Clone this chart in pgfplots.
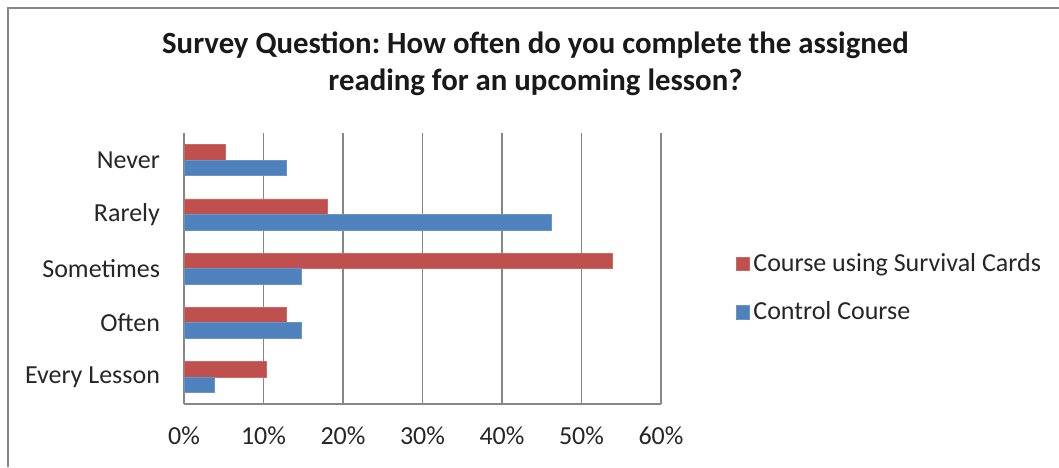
\documentclass[border=0pt]{standalone}
\usepackage{pgfplots}
\pgfplotsset{compat=1.18}
\usepackage{fontspec}
\setmainfont{Carlito}
\frenchspacing
\definecolor{xred}{HTML}{C0504D}
\definecolor{xblue}{HTML}{4F81BD}
\definecolor{xgrid}{HTML}{878787}
\begin{document}
\begin{tikzpicture}
\useasboundingbox (0,0) rectangle (529.5pt,233.5pt);
\fill[white] (0,0) rectangle (529.5pt,233.5pt);
\draw[xgrid, line width=0.8pt] (4pt,0) -- (4pt,229.5pt) -- (529.5pt,229.5pt);
\node[align=center, font=\fontsize{15.4}{18.5}\selectfont\bfseries, text=black!90] at (267.75pt,201.5pt)
  {Survey Question: How often do you complete the assigned\\reading for an upcoming lesson?};
\begin{axis}[
  at={(92pt,31.5pt)}, anchor=south west,
  scale only axis, width=238.5pt, height=135.5pt,
  xmin=0, xmax=60, ymin=-0.5, ymax=4.5,
  axis x line*=bottom, axis y line*=left,
  axis line style={xgrid, line width=0.6pt},
  xmajorgrids, grid style={xgrid, line width=0.6pt},
  xtick={0,10,...,60},
  xticklabel={\pgfmathprintnumber{\tick}\%},
  /pgf/number format/assume math mode=true,
  ytick={0,1,2,3,4},
  yticklabels={Every Lesson,Often,Sometimes,Rarely,Never},
  major tick length=0pt,
  tick label style={font=\fontsize{13}{15.6}\selectfont, text=black!85},
  xticklabel style={yshift=-8pt},
  yticklabel style={xshift=-8.5pt},
  xbar, bar width=0.286,
  legend style={at={(1.143,0.428)}, anchor=west, draw=none, fill=none,
    font=\fontsize{13}{15.6}\selectfont, text=black!85, row sep=9.5pt,
    legend cell align=left},
  legend image code/.code={\fill[#1] (0pt,-3.4pt) rectangle (6.6pt,3.4pt);},
]
\addplot[xbar, bar shift=0.143, fill=xred, draw=xred!85!white, line width=0.3pt]
  coordinates {(10.3,0) (12.9,1) (53.9,2) (18.0,3) (5.2,4)};
\addlegendentry{Course using Survival Cards}
\addplot[xbar, bar shift=-0.143, fill=xblue, draw=xblue!85!white, line width=0.3pt]
  coordinates {(3.8,0) (14.8,1) (14.8,2) (46.2,3) (12.9,4)};
\addlegendentry{Control Course}
\end{axis}
\end{tikzpicture}
\end{document}
